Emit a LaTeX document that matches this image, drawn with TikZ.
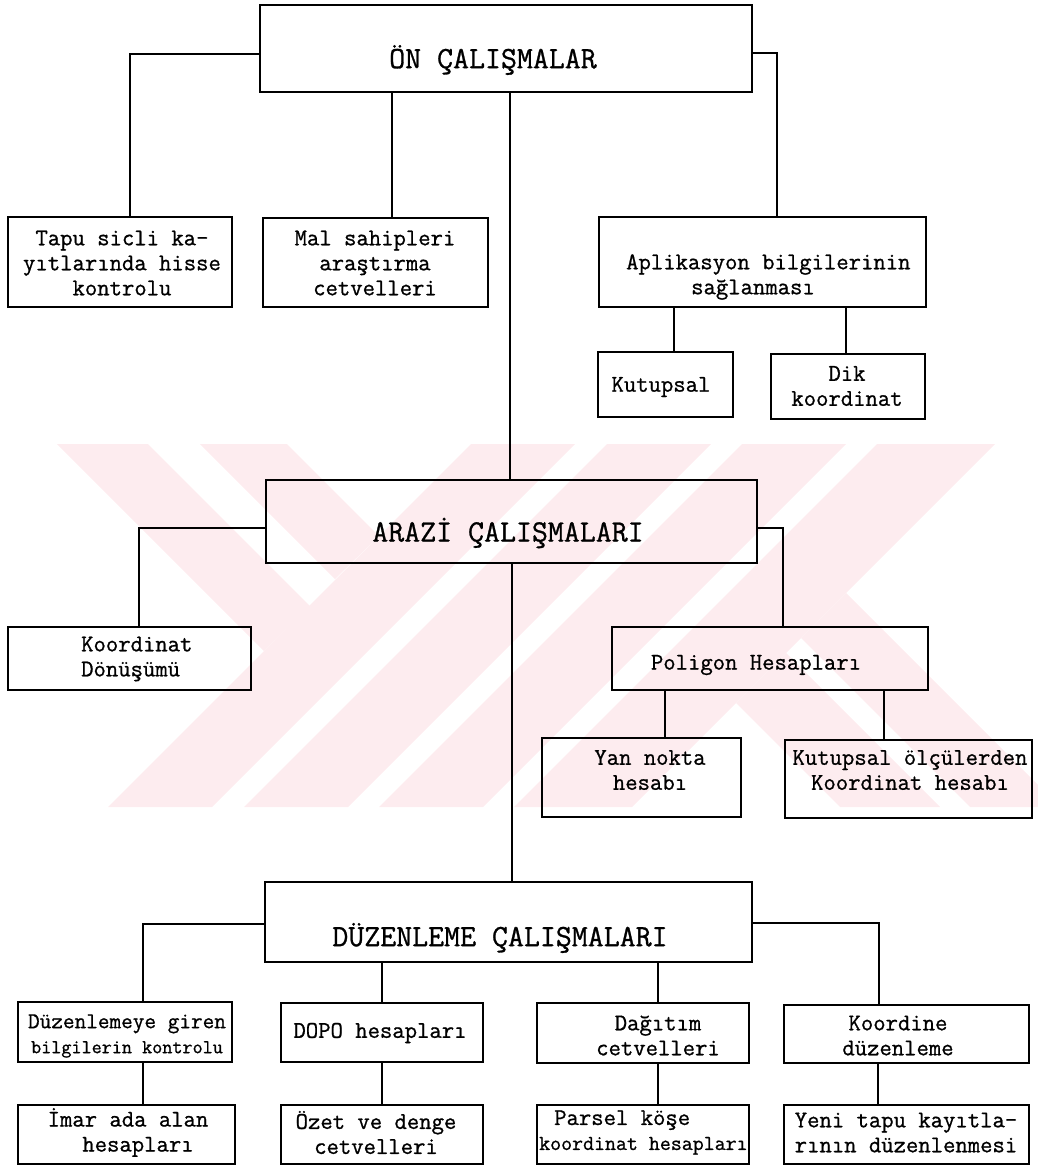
\documentclass[tikz,border=0pt]{standalone}
\usepackage{fontspec}
\newfontfamily\tw{Latin Modern Mono}[FakeBold=0.9]
\definecolor{wm}{RGB}{253,236,239}
\tikzset{
  bigbox/.style={draw, line width=2.6pt, inner sep=0pt},
  subbox/.style={draw, line width=1.9pt, inner sep=0pt},
  txt/.style={inner sep=0pt, align=center, font=\tw\fontsize{24}{25}\selectfont},
  hdr/.style={inner sep=0pt, font=\tw\fontsize{31}{32}\selectfont},
  conn/.style={line width=1.3pt},
  trunk/.style={line width=2pt},
  wmark/.style={fill=wm, draw=none}
}
\begin{document}
\begin{tikzpicture}[x=1pt, y=-1pt]
\useasboundingbox (0,0) rectangle (1038,1167);
% watermark
\fill[wmark] (57,444) -- (148,444) -- (310,606) -- (264,651) -- cycle;
\fill[wmark] (200,444) -- (287,444) -- (379,536) -- (335,579) -- cycle;
\fill[wmark] (471,444) -- (575,444) -- (212,807) -- (108,807) -- cycle;
\fill[wmark] (607,444) -- (711,444) -- (348,807) -- (244,807) -- cycle;
\fill[wmark] (742,444) -- (846,444) -- (483,807) -- (379,807) -- cycle;
\fill[wmark] (877,444) -- (995,444) -- (632,807) -- (514,807) -- cycle;
\fill[wmark] (736,703) -- (786,653) -- (940,807) -- (840,807) -- cycle;
\fill[wmark] (801,638) -- (846,593) -- (1038,785) -- (1038,807) -- (970,807) -- cycle;

% boxes
\node[bigbox, minimum width=492pt, minimum height=87pt] (on) at (506,48.5) {};
\node[subbox, minimum width=224pt, minimum height=90pt] (tapu) at (120,262) {};
\node[subbox, minimum width=225pt, minimum height=89pt] (mal) at (375.5,262.5) {};
\node[subbox, minimum width=327pt, minimum height=90pt] (apl) at (762.5,262) {};
\node[subbox, minimum width=135pt, minimum height=65pt] (kut) at (665.5,384.5) {};
\node[subbox, minimum width=154pt, minimum height=65pt] (dik) at (848,386.5) {};
\node[bigbox, minimum width=491pt, minimum height=83pt] (arazi) at (511.5,521.5) {};
\node[subbox, minimum width=243pt, minimum height=63pt] (kd) at (129.5,658.5) {};
\node[subbox, minimum width=316pt, minimum height=63pt] (pol) at (770,658.5) {};
\node[subbox, minimum width=199pt, minimum height=79pt] (yan) at (641.5,777.5) {};
\node[subbox, minimum width=247pt, minimum height=78pt] (kol) at (908.5,779) {};
\node[bigbox, minimum width=487pt, minimum height=80pt] (duz) at (508.5,922) {};
\node[subbox, minimum width=214pt, minimum height=60pt] (dgb) at (125,1032) {};
\node[subbox, minimum width=202pt, minimum height=59pt] (dopo) at (382,1032.5) {};
\node[subbox, minimum width=212pt, minimum height=60pt] (dag) at (643,1033) {};
\node[subbox, minimum width=245pt, minimum height=58pt] (koo) at (906.5,1034) {};
\node[subbox, minimum width=217pt, minimum height=59pt] (imar) at (126.5,1134.5) {};
\node[subbox, minimum width=202pt, minimum height=59pt] (ozet) at (382,1134.5) {};
\node[subbox, minimum width=212pt, minimum height=59pt] (parsel) at (643,1134.5) {};
\node[subbox, minimum width=245pt, minimum height=59pt] (yeni) at (906.5,1134.5) {};

% texts
\node[hdr] (ton) at (493,60) {ÖN ÇALIŞMALAR};
\node[txt] (ttapu) at (122,263) {Tapu sicli ka-\\yıtlarında hisse\\kontrolu};
\node[txt] (tmal) at (375,263) {Mal sahipleri\\araştırma\\cetvelleri};
\node[txt, align=left, anchor=west] (tapl) at (626,277) {Aplikasyon bilgilerinin\\\hspace*{65pt}sağlanması};
\node[txt] (tkut) at (661,387) {Kutupsal};
\node[txt] (tdik) at (847,386) {Dik\\koordinat};
\node[hdr] (tarazi) at (508,533) {ARAZİ ÇALIŞMALARI};
\node[txt, align=left, anchor=west] (tkd) at (81,659) {Koordinat\\Dönüşümü};
\node[txt] (tpol) at (756,665) {Poligon Hesapları};
\node[txt] (tyan) at (650,770) {Yan nokta\\hesabı};
\node[txt] (tkol) at (910,770) {Kutupsal ölçülerden\\Koordinat hesabı};
\node[hdr] (tduz) at (500,938) {DÜZENLEME ÇALIŞMALARI};
\node[txt] (tdgb) at (127,1036) {{\fontsize{22.6}{24}\selectfont Düzenlemeye giren}\\{\fontsize{19.6}{24}\selectfont bilgilerin kontrolu}};
\node[txt] (tdopo) at (380,1033) {DOPO hesapları};
\node[txt] (tdag) at (658,1035.5) {Dağıtım\\cetvelleri};
\node[txt] (tkoo) at (898,1035.5) {Koordine\\düzenleme};
\node[txt] (timar) at (128,1132.5) {İmar ada alan\\\hspace*{20pt}hesapları};
\node[txt] (tozet) at (376,1132.5) {Özet ve denge\\cetvelleri};
\node[txt, align=left, anchor=west] (tparsel) at (539,1132.5) {\hspace*{15pt}Parsel köşe\\{\fontsize{21.3}{25}\selectfont koordinat hesapları}};
\node[txt] (tyeni) at (906,1132.5) {Yeni tapu kayıtla-\\rının düzenlenmesi};

% connectors
\draw[conn] ([yshift=-5.5pt]on.west) -| ([xshift=10pt]tapu.north);
\draw[conn] ([xshift=16.5pt]mal.north) -- ([xshift=16.5pt]mal.north |- on.south);
\draw[conn] ([yshift=-4.5pt]on.east) -| ([xshift=14.5pt]apl.north);
\draw[trunk] ([xshift=-1.5pt]arazi.north) -- ([xshift=-1.5pt]arazi.north |- on.south);
\draw[conn] ([xshift=8.5pt]kut.north) -- ([xshift=8.5pt]kut.north |- apl.south);
\draw[conn] ([xshift=-2pt]dik.north) -- ([xshift=-2pt]dik.north |- apl.south);
\draw[conn] ([yshift=-6.5pt]arazi.west) -| ([xshift=9.5pt]kd.north);
\draw[conn] ([yshift=-6.5pt]arazi.east) -| ([xshift=13pt]pol.north);
\draw[conn] ([xshift=23.5pt]yan.north) -- ([xshift=23.5pt]yan.north |- pol.south);
\draw[conn] ([xshift=-24.5pt]kol.north) -- ([xshift=-24.5pt]kol.north |- pol.south);
\draw[trunk] ([xshift=0.5pt]arazi.south) -- ([xshift=0.5pt]arazi.south |- duz.north);
\draw[conn] ([yshift=-2pt]duz.west) -| ([xshift=18pt]dgb.north);
\draw[conn] (dopo.north) -- (dopo.north |- duz.south);
\draw[conn] ([xshift=15pt]dag.north) -- ([xshift=15pt]dag.north |- duz.south);
\draw[conn] ([yshift=-1pt]duz.east) -| ([xshift=-27.5pt]koo.north);
\draw[conn] ([xshift=16.5pt]imar.north) -- ([xshift=16.5pt]imar.north |- dgb.south);
\draw[conn] (ozet.north) -- (ozet.north |- dopo.south);
\draw[conn] ([xshift=15pt]parsel.north) -- ([xshift=15pt]parsel.north |- dag.south);
\draw[conn] ([xshift=-28.5pt]yeni.north) -- ([xshift=-28.5pt]yeni.north |- koo.south);
\end{tikzpicture}
\end{document}
